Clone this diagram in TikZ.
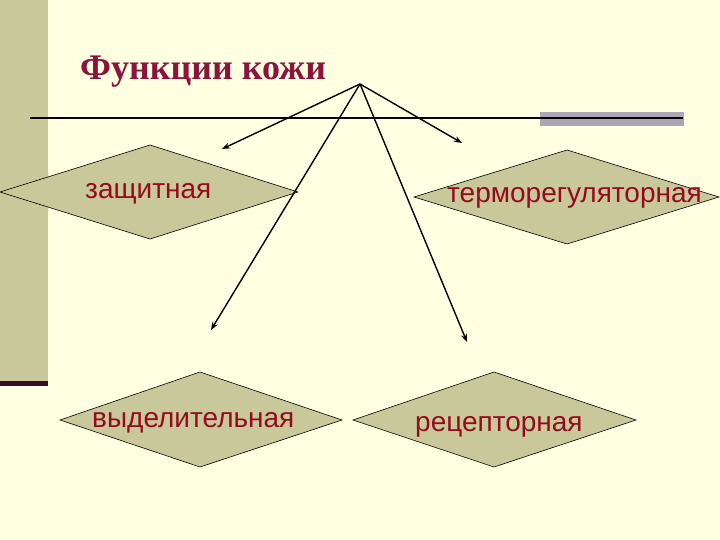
\documentclass[tikz,border=0pt]{standalone}
\usepackage{fontspec}
\setmainfont{Liberation Sans}
\newfontfamily\titlefont{Liberation Serif}
\usetikzlibrary{arrows.meta}
\definecolor{bgc}{RGB}{255,255,225}
\definecolor{barc}{RGB}{200,200,155}
\definecolor{barline}{RGB}{55,10,40}
\definecolor{grayrect}{RGB}{172,166,182}
\definecolor{titlec}{RGB}{140,20,60}
\definecolor{textc}{RGB}{150,10,30}
\definecolor{dfill}{RGB}{200,200,155}
\tikzset{
  dshape/.style={fill=dfill, draw=black, line width=0.6pt, line join=miter},
  dtext/.style={anchor=base west, inner sep=0pt, text=textc, font=\fontsize{28}{30}\selectfont},
  arr/.style={line width=1.4pt, -{Stealth[length=8pt,width=6pt]}}
}
\begin{document}
\begin{tikzpicture}[x=1pt,y=-1pt]
\useasboundingbox (0,0) rectangle (720,540);
\fill[bgc] (0,0) rectangle (720,540);
% left bar
\fill[barc] (0,0) rectangle (48,381);
\fill[barline] (0,381) rectangle (48,386);
% title
\node[anchor=base west, inner sep=0pt, text=titlec, font=\titlefont\bfseries\fontsize{36}{38}\selectfont] (title) at (80,80) {Функции кожи};
% header rule
\fill[grayrect] (540,112) rectangle (684,126);
\draw[line width=1.6pt, black] (30,118) -- (683,118);
% diamonds
\draw[dshape] (0,192) -- (150,145) -- (298,192) -- (150,239) -- cycle;
\draw[dshape] (414,197) -- (567,150) -- (719,197) -- (567,244) -- cycle;
\draw[dshape] (60,420) -- (200,372) -- (342,420) -- (200,467) -- cycle;
\draw[dshape] (353,420) -- (494,372) -- (636,420) -- (494,467) -- cycle;
% texts
\node[dtext] (t1) at (85,199) {защитная};
\node[dtext] (t2) at (447,203) {терморегуляторная};
\node[dtext] (t3) at (92,427) {выделительная};
\node[dtext] (t4) at (415,431) {рецепторная};
% arrows
\coordinate (apex) at (360,84);
\coordinate (e1) at (222,149);
\coordinate (e2) at (462,143);
\coordinate (e3) at (211,330);
\coordinate (e4) at (467,342);
\draw[arr] (apex) -- (e1);
\draw[arr] (apex) -- (e2);
\draw[arr] (apex) -- (e3);
\draw[arr] (apex) -- (e4);
\end{tikzpicture}
\end{document}
